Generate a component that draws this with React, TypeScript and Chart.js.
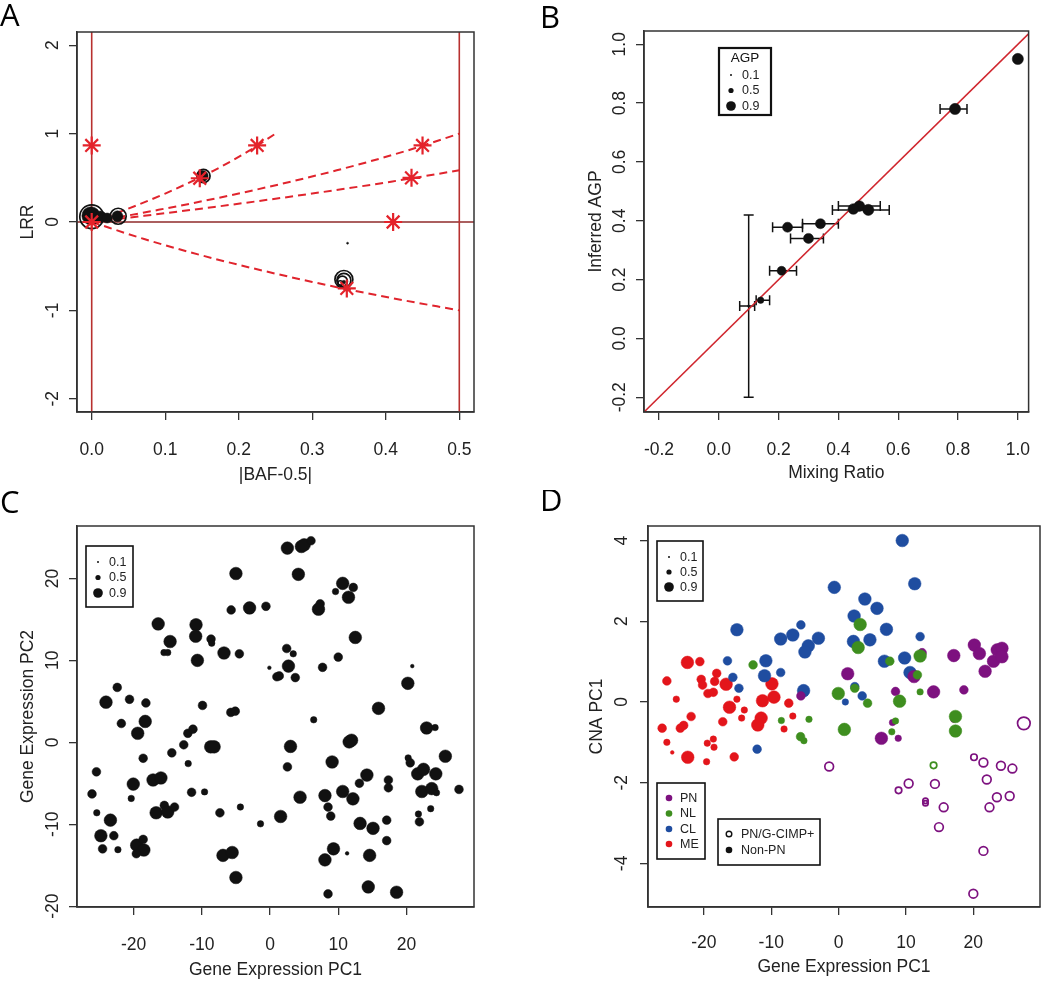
import React, { useEffect, useRef } from "react";
import { Chart, registerables } from "chart.js";

Chart.register(...registerables);

const FONT = "'Liberation Sans', Arial, Helvetica, sans-serif";
const LETTER_FONT = "'Open Sans', 'Noto Sans', sans-serif";
const AX = "#333333";
const TXT = "#222222";
const TICK_SIZE = 17.5;

// ---------------- Panel A ----------------
const aXTicks = [0, 0.1, 0.2, 0.3, 0.4, 0.5];
const aYTicks = [-2, -1, 0, 1, 2];
const aCurve1X = [0, 0.0455, 0.1, 0.1667, 0.2143, 0.25];
const aCurve1Y = [0, 0.1375, 0.322, 0.585, 0.807, 1.0];
const aCurve2X = [0, 0.0909, 0.2, 0.3333, 0.4286, 0.5];
const aCurve2Y = [0, 0.1375, 0.322, 0.585, 0.807, 1.0];
const aCurve3X = [0, 0.0714, 0.1667, 0.3, 0.4091, 0.5];
const aCurve3Y = [0, 0.0704, 0.17, 0.322, 0.459, 0.585];
const aCurve4X = [0, 0.0714, 0.1667, 0.3, 0.4091, 0.5];
const aCurve4Y = [0, -0.193, -0.415, -0.678, -0.862, -1.0];
const aStarX = [0, 0, 0.147, 0.225, 0.435, 0.45, 0.41, 0.347];
const aStarY = [0, 0.866, 0.495, 0.866, 0.5, 0.866, 0, -0.752];
const aDotX = [-0.001, 0.012, 0.021, 0.035, 0.151, 0.343, 0.348];
const aDotY = [0.07, 0.06, 0.045, 0.065, 0.52, -0.68, -0.24];
const aDotSize = [1.45, 0.85, 0.72, 0.8, 0.8, 0.15, 0.0];
const aRingX = [0, 0.036, 0.152, 0.343, 0.343, 0.341, 0.338];
const aRingY = [0.06, 0.065, 0.52, -0.65, -0.66, -0.67, -0.69];
const aRingSize = [1.95, 1.25, 1.0, 1.42, 1.07, 0.72, 0.22];
const aVLineX = [0, 0.5];
const aHLineY = [0];

// ---------------- Panel B ----------------
const bXTicks = [-0.2, 0, 0.2, 0.4, 0.6, 0.8, 1.0];
const bYTicks = [-0.2, 0, 0.2, 0.4, 0.6, 0.8, 1.0];
const bX = [1.0, 0.79, 0.47, 0.45, 0.5, 0.34, 0.23, 0.3, 0.21, 0.14, 0.1];
const bY = [0.95, 0.78, 0.45, 0.44, 0.437, 0.39, 0.378, 0.34, 0.23, 0.13, 0.11];
const bAGP = [0.82, 0.82, 0.78, 0.78, 0.82, 0.72, 0.72, 0.72, 0.62, 0.4, 0.02];
const bXLo = [null, 0.74, 0.4, null, 0.38, 0.28, 0.18, 0.24, 0.17, 0.125, 0.07];
const bXHi = [null, 0.83, 0.54, null, 0.57, 0.4, 0.28, 0.35, 0.26, 0.17, 0.12];
const bYLo = [null, null, null, null, null, null, null, null, null, null, -0.2];
const bYHi = [null, null, null, null, null, null, null, null, null, null, 0.42];
const bRefX = [-0.3, 1.1];
const bRefY = [-0.3, 1.1];
const legendAGP = [0.1, 0.5, 0.9];

// ---------------- Panel C ----------------
const cXTicks = [-20, -10, 0, 10, 20];
const cYTicks = [-20, -10, 0, 10, 20];
const cX = [
  2.54, 4.6, 5.0, 6.0, -5.0, 4.15, 10.65, 9.6, 12.2, 11.5,
  -5.7, -3.0, -0.6, 7.35, 7.1, -16.4, -10.85, -10.9, -8.65, -8.55,
  -14.65, -15.55, -15.0, -10.65, -6.75, -4.5, 12.5, 2.44, 3.4, 2.7,
  1.0, 1.35, 3.7, -0.1, 7.7, 10.0, 20.85, 20.2, 15.9, 6.4,
  -22.4, -24.05, -20.6, -18.2, -21.8, -18.3, -19.4, -9.9, -5.75, -5.1,
  -12.05, -11.3, -12.65, -8.7, -8.2, -18.6, -14.4, -12.0, -25.45, -20.05,
  -20.35, -26.1, -17.15, -16.0, -11.5, -9.6, -25.4, -23.4, -24.8, -22.9,
  -24.55, -22.3, -16.7, -15.5, -15.0, -14.0, -19.55, -18.6, -18.5, -19.6,
  -7.35, -4.35, -6.9, -5.55, -5.0, -1.4, 11.6, 11.95, 3.0, 2.55,
  9.1, 20.25, 20.55, 25.7, 22.95, 24.2, 14.2, 13.1, 17.35, 17.35,
  10.65, 12.15, 8.05, 4.4, 1.55, 8.5, 8.9, 21.65, 22.5, 24.3,
  22.25, 23.7, 24.4, 27.7, 21.75, 21.9, 23.55, 17.1, 17.1, 13.2,
  15.1, 9.3, 11.3, 8.05, 14.6, 14.4, 18.55, 8.5,
];
const cY = [
  23.7, 23.9, 24.1, 24.6, 20.6, 20.5, 19.4, 18.4, 18.9, 17.7,
  16.15, 16.4, 16.6, 16.9, 16.25, 14.45, 14.35, 12.95, 12.6, 12.1,
  12.3, 10.95, 10.95, 10.0, 10.9, 10.8, 12.8, 11.45, 10.8, 9.3,
  8.0, 8.1, 7.9, 9.1, 9.15, 10.4, 9.3, 7.2, 4.15, 2.75,
  6.7, 4.9, 5.25, 4.8, 2.3, 2.55, 1.1, 4.5, 3.65, 3.8,
  1.1, 1.6, -0.3, -0.55, -0.55, -1.95, -1.28, -2.6, -3.6, -5.1,
  -6.85, -6.3, -4.6, -4.35, -6.1, -6.05, -8.6, -9.5, -11.4, -11.4,
  -13.0, -13.1, -8.6, -7.7, -8.5, -7.9, -12.55, -11.85, -13.15, -13.6,
  -8.6, -7.9, -13.8, -13.45, -16.5, -9.95, 0.05, 0.25, -0.5, -3.0,
  -2.4, -1.9, -2.5, -1.7, 1.75, 1.8, -4.0, -5.0, -4.6, -5.55,
  -6.0, -6.9, -6.5, -6.7, -9.05, -7.9, -9.0, -3.85, -3.3, -3.85,
  -6.0, -5.65, -6.15, -5.75, -8.75, -9.7, -8.1, -9.5, -12.0, -9.9,
  -10.5, -13.0, -13.55, -14.35, -13.8, -17.65, -18.3, -18.5,
];
const cAGP = [
  0.95, 0.95, 0.95, 0.6, 0.95, 0.95, 0.95, 0.4, 0.6, 0.95,
  0.6, 0.95, 0.6, 0.6, 0.95, 0.95, 0.95, 0.95, 0.6, 0.4,
  0.95, 0.4, 0.4, 0.95, 0.95, 0.6, 0.95, 0.6, 0.4, 0.95,
  0.6, 0.6, 0.6, 0.15, 0.6, 0.6, 0.15, 0.95, 0.95, 0.4,
  0.6, 0.95, 0.6, 0.6, 0.6, 0.95, 0.95, 0.6, 0.6, 0.6,
  0.6, 0.6, 0.6, 0.95, 0.95, 0.6, 0.6, 0.4, 0.6, 0.95,
  0.4, 0.6, 0.95, 0.95, 0.6, 0.4, 0.4, 0.95, 0.95, 0.6,
  0.6, 0.4, 0.95, 0.6, 0.95, 0.6, 0.95, 0.6, 0.95, 0.6,
  0.6, 0.4, 0.95, 0.95, 0.95, 0.4, 0.95, 0.95, 0.95, 0.6,
  0.95, 0.4, 0.6, 0.95, 0.95, 0.4, 0.95, 0.6, 0.6, 0.6,
  0.95, 0.95, 0.95, 0.95, 0.95, 0.6, 0.6, 0.95, 0.95, 0.95,
  0.95, 0.95, 0.4, 0.6, 0.4, 0.6, 0.4, 0.6, 0.6, 0.95,
  0.95, 0.95, 0.15, 0.95, 0.95, 0.95, 0.95, 0.6,
];

// ---------------- Panel D ----------------
const dXTicks = [-20, -10, 0, 10, 20];
const dYTicks = [-4, -2, 0, 2, 4];
const dMEx = [-22.45, -20.6, -25.5, -24.1, -18.1, -18.4, -20.4, -20.2, -19.4, -18.6, -16.7, -15.1, -16.2, -14.0, -21.9, -17.2, -14.4, -11.3, -11.5, -12.0, -9.9, -9.6, -7.4, -6.8, -8.1, -26.2, -23.5, -23.0, -25.5, -24.7, -22.4, -19.5, -18.6, -18.5, -19.6, -15.5];
const dMEy = [0.98, 1.0, 0.52, 0.07, 0.71, 0.51, 0.56, 0.42, 0.21, 0.24, 0.44, 0.07, -0.13, -0.2, -0.36, -0.49, -0.4, 0.03, -0.4, -0.57, 0.45, 0.12, -0.03, -0.35, -0.67, -0.65, -0.65, -0.58, -1.0, -1.25, -1.37, -1.02, -0.92, -1.12, -1.48, -1.36];
const dMEagp = [0.95, 0.6, 0.6, 0.4, 0.6, 0.6, 0.6, 0.6, 0.6, 0.6, 0.95, 0.4, 0.95, 0.4, 0.6, 0.6, 0.4, 0.95, 0.95, 0.95, 0.95, 0.95, 0.6, 0.4, 0.4, 0.6, 0.6, 0.6, 0.4, 0.15, 0.95, 0.4, 0.4, 0.4, 0.4, 0.6];
const dCLx = [-15.1, -5.6, -8.6, -6.8, -3.0, -4.5, -5.0, -16.5, -10.8, -15.7, -11.0, -8.6, -14.8, -5.2, -12.1, -0.64, 9.45, 11.3, 3.9, 5.7, 2.3, 7.1, 12.1, 2.2, 4.65, 6.8, 9.8, 10.6, 2.4, 3.5, 1.0];
const dCLy = [1.79, 1.91, 1.56, 1.66, 1.58, 1.39, 1.24, 1.02, 1.02, 0.61, 0.65, 0.73, 0.34, 0.28, -1.17, 2.84, 4.0, 2.93, 2.55, 2.32, 2.13, 1.8, 1.62, 1.5, 1.54, 1.01, 1.09, 0.73, 0.38, 0.15, 0.0];
const dCLagp = [0.95, 0.6, 0.95, 0.95, 0.95, 0.95, 0.95, 0.6, 0.95, 0.6, 0.95, 0.6, 0.6, 0.95, 0.6, 0.95, 0.95, 0.95, 0.95, 0.95, 0.95, 0.95, 0.6, 0.95, 0.95, 0.95, 0.95, 0.95, 0.6, 0.6, 0.4];
const dNLx = [-12.7, -8.5, -4.4, -5.65, -5.15, 3.2, 2.9, 7.6, 12.1, 11.7, 2.4, -0.05, 4.3, 9.05, 12.1, 0.85, 8.45, 7.9, 17.35, 17.35];
const dNLy = [0.92, -0.46, -0.43, -0.86, -0.96, 1.92, 1.35, 1.01, 1.14, 0.67, 0.34, 0.21, -0.03, 0.02, 0.25, -0.68, -0.47, -0.74, -0.36, -0.72];
const dNLagp = [0.6, 0.4, 0.4, 0.6, 0.4, 0.95, 0.95, 0.6, 0.95, 0.6, 0.6, 0.95, 0.6, 0.95, 0.4, 0.95, 0.4, 0.4, 0.95, 0.95];
const dPNx = [-5.6, 1.35, 12.4, 11.2, 8.45, 14.1, 18.6, 17.1, 20.15, 20.9, 21.75, 23.0, 23.55, 24.25, 24.25, 8.0, 17.1, 6.35, 8.85];
const dPNy = [0.15, 0.7, 1.22, 0.63, 0.26, 0.25, 0.3, 1.15, 1.41, 1.2, 0.76, 1.01, 1.29, 1.33, 1.12, -0.51, -0.43, -0.9, -0.9];
const dPNagp = [0.6, 0.95, 0.6, 0.95, 0.6, 0.95, 0.6, 0.95, 0.95, 0.95, 0.95, 0.95, 0.95, 0.95, 0.95, 0.4, 0.4, 0.95, 0.4];
const dPNopenX = [27.5, 20.1, 21.5, 24.1, 25.8, 22.0, 23.5, 25.4, 22.4, 8.9, 10.4, 14.3, 12.9, 12.9, 15.6, 14.9, 21.5, 20.0, -1.4];
const dPNopenY = [-0.53, -1.37, -1.5, -1.58, -1.65, -1.92, -2.36, -2.33, -2.61, -2.19, -2.02, -2.03, -2.51, -2.45, -2.61, -3.1, -3.69, -4.75, -1.6];
const dPNopenAgp = [0.95, 0.4, 0.6, 0.6, 0.6, 0.6, 0.6, 0.6, 0.6, 0.4, 0.6, 0.6, 0.3, 0.3, 0.6, 0.6, 0.6, 0.6, 0.6];
const dNLopenX = [14.1];
const dNLopenY = [-1.57];
const dNLopenAgp = [0.4];
const dGroups = ["PN", "NL", "CL", "ME"];
const dGroupColors = ["#7d117f", "#3e8e1f", "#1f4da0", "#e3151b"];
const dShapeLabels = ["PN/G-CIMP+", "Non-PN"];

// ---------------- helpers ----------------
const agpRadius = (a: number) => 1 + 5.6 * a;
const zip = (xs: number[], ys: number[]) => xs.map((x, i) => ({ x, y: ys[i] }));
const fmt = (v: any, dec: number) => (dec > 0 ? Number(v).toFixed(dec) : String(Math.round(Number(v))));

type Spec = {
  w: number; h: number;
  box: { left: number; top: number; right: number; bottom: number };
  xMin: number; xMax: number; yMin: number; yMax: number;
  xTicks: number[]; yTicks: number[]; xDec: number; yDec: number;
  xTitle: string; yTitle: string;
  xTickPad: number; yTickPad: number; xTitlePad: number; yTitlePad: number;
};

function makeOptions(s: Spec): any {
  const font = { family: FONT, size: TICK_SIZE };
  const grid = { display: true, drawOnChartArea: false, drawTicks: true, tickLength: 8, tickColor: AX, color: AX, lineWidth: 1.3 };
  const border = { display: true, color: AX, width: 1.5 };
  return {
    animation: false,
    responsive: false,
    maintainAspectRatio: false,
    devicePixelRatio: 1,
    events: [],
    layout: { padding: { left: 0, top: s.box.top, right: s.w - s.box.right, bottom: 0 } },
    plugins: { legend: { display: false }, tooltip: { enabled: false }, title: { display: false } },
    scales: {
      x: {
        type: "linear", position: "bottom", min: s.xMin, max: s.xMax,
        afterBuildTicks: (sc: any) => { sc.ticks = s.xTicks.map((v) => ({ value: v })); },
        afterFit: (sc: any) => { sc.height = s.h - s.box.bottom; },
        grid, border,
        ticks: { autoSkip: false, minRotation: 0, maxRotation: 0, padding: s.xTickPad, color: TXT, font, callback: (v: any) => fmt(v, s.xDec) },
        title: { display: true, text: s.xTitle, color: TXT, font, padding: { top: 0, bottom: s.xTitlePad } },
      },
      y: {
        type: "linear", position: "left", min: s.yMin, max: s.yMax,
        afterBuildTicks: (sc: any) => { sc.ticks = s.yTicks.map((v) => ({ value: v })); },
        afterFit: (sc: any) => { sc.width = s.box.left; },
        grid, border,
        ticks: { autoSkip: false, minRotation: 90, maxRotation: 90, crossAlign: "center", padding: s.yTickPad, color: TXT, font, callback: (v: any) => fmt(v, s.yDec) },
        title: { display: true, text: s.yTitle, color: TXT, font, padding: { top: s.yTitlePad, bottom: 0 } },
      },
    },
  };
}

const framePlugin = {
  id: "frame",
  afterDraw(chart: any) {
    const { ctx, chartArea: a } = chart;
    ctx.save();
    ctx.strokeStyle = AX;
    ctx.lineWidth = 1.5;
    ctx.strokeRect(a.left, a.top, a.right - a.left, a.bottom - a.top);
    ctx.restore();
  },
};

function letterPlugin(letter: string, x: number, y: number) {
  return {
    id: "letter" + letter,
    afterDraw(chart: any) {
      const ctx = chart.ctx;
      ctx.save();
      ctx.font = "31px " + LETTER_FONT;
      ctx.fillStyle = "#000";
      ctx.textAlign = "left";
      ctx.textBaseline = "alphabetic";
      ctx.fillText(letter, x, y);
      ctx.restore();
    },
  };
}

type LegItem = { label: string; color: string; r: number; open?: boolean };
type LegBox = { x: number; y: number; w: number; h: number; lw: number; title?: string; titleX?: number; titleY?: number; symX: number; textX: number; rows: number[]; items: LegItem[] };

function legendPlugin(boxes: LegBox[]) {
  return {
    id: "customLegend",
    afterDraw(chart: any) {
      const ctx = chart.ctx;
      ctx.save();
      boxes.forEach((b) => {
        ctx.fillStyle = "#fff";
        ctx.fillRect(b.x, b.y, b.w, b.h);
        ctx.strokeStyle = "#111";
        ctx.lineWidth = b.lw;
        ctx.strokeRect(b.x, b.y, b.w, b.h);
        ctx.font = "12.5px " + FONT;
        ctx.textBaseline = "middle";
        if (b.title) {
          ctx.fillStyle = "#111";
          ctx.textAlign = "center";
          ctx.font = "13.5px " + FONT;
          ctx.fillText(b.title, b.titleX as number, b.titleY as number);
          ctx.font = "12.5px " + FONT;
        }
        b.items.forEach((it, i) => {
          const yy = b.rows[i];
          ctx.beginPath();
          ctx.arc(b.symX, yy, it.r, 0, Math.PI * 2);
          if (it.open) {
            ctx.strokeStyle = it.color;
            ctx.lineWidth = 1.4;
            ctx.stroke();
          } else {
            ctx.fillStyle = it.color;
            ctx.fill();
          }
          ctx.fillStyle = "#222";
          ctx.textAlign = "left";
          ctx.fillText(it.label, b.textX, yy + 0.5);
        });
      });
      ctx.restore();
    },
  };
}

const sizeLegendItems = legendAGP.map((a) => ({ label: a.toFixed(1), color: "#111", r: Math.max(1, agpRadius(a) - 1.2) }));

const bErrorPlugin = {
  id: "errbars",
  beforeDatasetsDraw(chart: any) {
    const { ctx, scales } = chart;
    const xs = scales.x;
    const ys = scales.y;
    ctx.save();
    ctx.strokeStyle = "#111";
    ctx.lineWidth = 1.5;
    const cap = 5;
    bX.forEach((xv, i) => {
      const lo = bXLo[i];
      const hi = bXHi[i];
      const py = ys.getPixelForValue(bY[i]);
      if (lo !== null && hi !== null) {
        const x0 = xs.getPixelForValue(lo);
        const x1 = xs.getPixelForValue(hi);
        ctx.beginPath();
        ctx.moveTo(x0, py); ctx.lineTo(x1, py);
        ctx.moveTo(x0, py - cap); ctx.lineTo(x0, py + cap);
        ctx.moveTo(x1, py - cap); ctx.lineTo(x1, py + cap);
        ctx.stroke();
      }
      const ylo = bYLo[i];
      const yhi = bYHi[i];
      if (ylo !== null && yhi !== null) {
        const px = xs.getPixelForValue(xv);
        const y0 = ys.getPixelForValue(ylo);
        const y1 = ys.getPixelForValue(yhi);
        ctx.beginPath();
        ctx.moveTo(px, y0); ctx.lineTo(px, y1);
        ctx.moveTo(px - cap, y0); ctx.lineTo(px + cap, y0);
        ctx.moveTo(px - cap, y1); ctx.lineTo(px + cap, y1);
        ctx.stroke();
      }
    });
    ctx.restore();
  },
};

function pointSet(xs: number[], ys: number[], sizes: number[], color: string, open = false): any {
  const r = sizes.map(agpRadius);
  return {
    data: zip(xs, ys),
    showLine: false,
    pointStyle: "circle",
    pointRadius: r,
    pointHoverRadius: r,
    pointBackgroundColor: open ? "rgba(0,0,0,0)" : color,
    pointBorderColor: color,
    pointBorderWidth: open ? 1.7 : 0.5,
  };
}

function lineSet(xs: number[], ys: number[], color: string, width: number, dash: number[] = [], smooth = false): any {
  return {
    data: zip(xs, ys),
    showLine: true,
    borderColor: color,
    borderWidth: width,
    borderDash: dash,
    pointRadius: 0,
    pointHoverRadius: 0,
    fill: false,
    cubicInterpolationMode: smooth ? "monotone" : "default",
  };
}

// ---------------- chart builders ----------------
function buildA(): any {
  const spec: Spec = {
    w: 525, h: 490, box: { left: 77, top: 32, right: 474, bottom: 412 },
    xMin: -0.02, xMax: 0.52, yMin: -2.15, yMax: 2.15,
    xTicks: aXTicks, yTicks: aYTicks, xDec: 1, yDec: 0,
    xTitle: "|BAF-0.5|", yTitle: "LRR",
    xTickPad: 19.5, yTickPad: 8.2, xTitlePad: 4.5, yTitlePad: 17.5,
  };
  const dash = [8, 5];
  const red = "#e0242d";
  const datasets = [
    {
      data: zip(aStarX, aStarY), showLine: false, pointStyle: "star", pointRadius: 9, pointHoverRadius: 9,
      pointBorderColor: "#e4232b", pointBackgroundColor: "#e4232b", pointBorderWidth: 2.2,
    },
    pointSet(aDotX, aDotY, aDotSize, "#111"),
    pointSet(aRingX, aRingY, aRingSize, "#111", true),
    lineSet(aCurve1X, aCurve1Y, red, 2, dash, true),
    lineSet(aCurve2X, aCurve2Y, red, 2, dash, true),
    lineSet(aCurve3X, aCurve3Y, red, 2, dash, true),
    lineSet(aCurve4X, aCurve4Y, red, 2, dash, true),
    lineSet([aVLineX[0], aVLineX[0]], [-3, 3], "#b8312f", 1.6),
    lineSet([aVLineX[1], aVLineX[1]], [-3, 3], "#b8312f", 1.6),
    lineSet([-1, 1], [aHLineY[0], aHLineY[0]], "#8f2a2a", 1.6),
  ];
  const ds = datasets.map((d, i) => ({ ...d, order: i }));
  return { type: "scatter", data: { datasets: ds }, options: makeOptions(spec), plugins: [framePlugin, letterPlugin("A", 0, 26)] };
}

function buildB(): any {
  const spec: Spec = {
    w: 525, h: 490, box: { left: 119, top: 31, right: 507, bottom: 412 },
    xMin: -0.25, xMax: 1.036, yMin: -0.25, yMax: 1.045,
    xTicks: bXTicks, yTicks: bYTicks, xDec: 1, yDec: 1,
    xTitle: "Mixing Ratio", yTitle: "Inferred AGP",
    xTickPad: 19.5, yTickPad: 0.9, xTitlePad: 6.5, yTitlePad: 60.5,
  };
  const datasets = [
    pointSet(bX, bY, bAGP, "#111"),
    lineSet(bRefX, bRefY, "#d0262e", 1.6),
  ].map((d, i) => ({ ...d, order: i }));
  const legend: LegBox[] = [{
    x: 194, y: 48, w: 52, h: 67, lw: 2.2, title: "AGP", titleX: 220, titleY: 58,
    symX: 206, textX: 217, rows: [75, 90.5, 106], items: sizeLegendItems,
  }];
  return { type: "scatter", data: { datasets }, options: makeOptions(spec), plugins: [bErrorPlugin, framePlugin, legendPlugin(legend), letterPlugin("B", 15, 28)] };
}

function buildC(): any {
  const spec: Spec = {
    w: 525, h: 495, box: { left: 77, top: 36, right: 474, bottom: 417 },
    xMin: -28.3, xMax: 29.9, yMin: -20.1, yMax: 26.4,
    xTicks: cXTicks, yTicks: cYTicks, xDec: 0, yDec: 0,
    xTitle: "Gene Expression PC1", yTitle: "Gene Expression PC2",
    xTickPad: 19.5, yTickPad: 3.4, xTitlePad: 4.5, yTitlePad: 17.5,
  };
  const datasets = [pointSet(cX, cY, cAGP, "#111")];
  const legend: LegBox[] = [{
    x: 86, y: 56, w: 47, h: 61, lw: 1.6, symX: 98, textX: 109, rows: [72, 87.5, 103], items: sizeLegendItems,
  }];
  return { type: "scatter", data: { datasets }, options: makeOptions(spec), plugins: [framePlugin, legendPlugin(legend), letterPlugin("C", 0, 23)] };
}

function buildD(): any {
  const spec: Spec = {
    w: 525, h: 495, box: { left: 123, top: 36, right: 515, bottom: 417 },
    xMin: -28.3, xMax: 29.9, yMin: -5.08, yMax: 4.36,
    xTicks: dXTicks, yTicks: dYTicks, xDec: 0, yDec: 0,
    xTitle: "Gene Expression PC1", yTitle: "CNA PC1",
    xTickPad: 17.5, yTickPad: 10.2, xTitlePad: 7.5, yTitlePad: 61.5,
  };
  const [cPN, cNL, cCL, cME] = dGroupColors;
  const datasets = [
    pointSet(dNLopenX, dNLopenY, dNLopenAgp, cNL, true),
    pointSet(dPNopenX, dPNopenY, dPNopenAgp, cPN, true),
    pointSet(dNLx, dNLy, dNLagp, cNL),
    pointSet(dPNx, dPNy, dPNagp, cPN),
    pointSet(dCLx, dCLy, dCLagp, cCL),
    pointSet(dMEx, dMEy, dMEagp, cME),
  ].map((d, i) => ({ ...d, order: i }));
  const legend: LegBox[] = [
    { x: 132, y: 51, w: 46, h: 60, lw: 1.6, symX: 144, textX: 155, rows: [67, 82, 97], items: sizeLegendItems },
    {
      x: 132, y: 293, w: 48, h: 76, lw: 1.6, symX: 144, textX: 155, rows: [308, 323.5, 339, 354],
      items: dGroups.map((g, i) => ({ label: g, color: dGroupColors[i], r: 3.3 })),
    },
    {
      x: 193, y: 329, w: 102, h: 46, lw: 1.6, symX: 204, textX: 216, rows: [344, 360],
      items: [
        { label: dShapeLabels[0], color: "#111", r: 2.8, open: true },
        { label: dShapeLabels[1], color: "#111", r: 3.3 },
      ],
    },
  ];
  return { type: "scatter", data: { datasets }, options: makeOptions(spec), plugins: [framePlugin, legendPlugin(legend), letterPlugin("D", 15, 21)] };
}

function ChartCanvas(props: { left: number; top: number; width: number; height: number; build: () => any }) {
  const ref = useRef<HTMLCanvasElement | null>(null);
  useEffect(() => {
    if (!ref.current) return;
    const chart = new Chart(ref.current, props.build());
    return () => chart.destroy();
  }, []);
  return (
    <canvas
      ref={ref}
      width={props.width}
      height={props.height}
      style={{ position: "absolute", left: props.left, top: props.top, width: props.width, height: props.height }}
    />
  );
}

export default function App() {
  return (
    <div style={{ position: "absolute", left: 0, top: 0, width: 1050, height: 985, background: "#ffffff", overflow: "hidden" }}>
      <ChartCanvas left={0} top={0} width={525} height={490} build={buildA} />
      <ChartCanvas left={525} top={0} width={525} height={490} build={buildB} />
      <ChartCanvas left={0} top={490} width={525} height={495} build={buildC} />
      <ChartCanvas left={525} top={490} width={525} height={495} build={buildD} />
    </div>
  );
}
